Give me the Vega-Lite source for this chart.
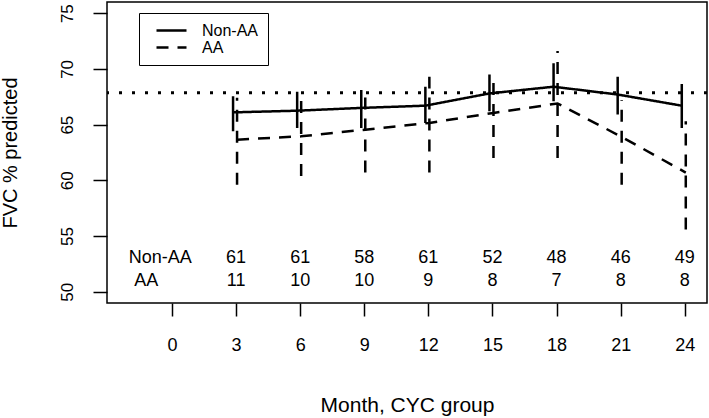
{
  "$schema": "https://vega.github.io/schema/vega-lite/v6.json",
  "width": 600,
  "height": 301,
  "autosize": {"type": "none"},
  "padding": {"left": 107, "top": 2, "right": 2, "bottom": 115},
  "background": "white",
  "config": {
    "font": "Liberation Sans",
    "view": {"stroke": "black", "strokeWidth": 1.5},
    "axis": {
      "domain": false, "grid": false, "tickColor": "black", "tickWidth": 1.5,
      "labelColor": "black", "titleColor": "black", "labelFontSize": 18,
      "titleFontSize": 21, "titleFontWeight": "normal", "labelFont": "Liberation Sans", "titleFont": "Liberation Sans"
    }
  },
  "datasets": {
    "series": [
      {"month": 3, "group": "Non-AA", "fvc": 66.1, "lo": 64.4, "hi": 67.55},
      {"month": 6, "group": "Non-AA", "fvc": 66.25, "lo": 64.7, "hi": 67.95},
      {"month": 9, "group": "Non-AA", "fvc": 66.5, "lo": 64.7, "hi": 68.1},
      {"month": 12, "group": "Non-AA", "fvc": 66.7, "lo": 65.15, "hi": 68.4},
      {"month": 15, "group": "Non-AA", "fvc": 67.8, "lo": 66.2, "hi": 69.5},
      {"month": 18, "group": "Non-AA", "fvc": 68.4, "lo": 67.1, "hi": 70.5},
      {"month": 21, "group": "Non-AA", "fvc": 67.7, "lo": 65.9, "hi": 69.3},
      {"month": 24, "group": "Non-AA", "fvc": 66.7, "lo": 64.7, "hi": 68.65},
      {"month": 3, "group": "AA", "fvc": 63.65, "lo": 59.6, "hi": 67.4},
      {"month": 6, "group": "AA", "fvc": 63.95, "lo": 60.4, "hi": 67.5},
      {"month": 9, "group": "AA", "fvc": 64.55, "lo": 60.7, "hi": 68.2},
      {"month": 12, "group": "AA", "fvc": 65.15, "lo": 60.7, "hi": 69.3},
      {"month": 15, "group": "AA", "fvc": 66.05, "lo": 62.0, "hi": 69.3},
      {"month": 18, "group": "AA", "fvc": 66.9, "lo": 62.0, "hi": 71.6},
      {"month": 21, "group": "AA", "fvc": 63.9, "lo": 59.6, "hi": 67.2},
      {"month": 24, "group": "AA", "fvc": 60.7, "lo": 55.6, "hi": 65.3}
    ],
    "reference": [{"fvc": 67.85}],
    "counts": [
      {"month": -0.55, "level": 53, "label": "Non-AA"},
      {"month": -1.2, "level": 51, "label": "AA"},
      {"month": 3, "level": 53, "label": "61"},
      {"month": 6, "level": 53, "label": "61"},
      {"month": 9, "level": 53, "label": "58"},
      {"month": 12, "level": 53, "label": "61"},
      {"month": 15, "level": 53, "label": "52"},
      {"month": 18, "level": 53, "label": "48"},
      {"month": 21, "level": 53, "label": "46"},
      {"month": 24, "level": 53, "label": "49"},
      {"month": 3, "level": 51, "label": "11"},
      {"month": 6, "level": 51, "label": "10"},
      {"month": 9, "level": 51, "label": "10"},
      {"month": 12, "level": 51, "label": "9"},
      {"month": 15, "level": 51, "label": "8"},
      {"month": 18, "level": 51, "label": "7"},
      {"month": 21, "level": 51, "label": "8"},
      {"month": 24, "level": 51, "label": "8"}
    ]
  },
  "encoding": {
    "x": {
      "field": "month", "type": "quantitative",
      "scale": {"domain": [-3.04, 25.04], "nice": false, "zero": false},
      "axis": {
        "values": [0, 3, 6, 9, 12, 15, 18, 21, 24], "tickSize": 13, "labelPadding": 20,
        "title": "Month, CYC group", "titlePadding": 40
      }
    }
  },
  "layer": [
    {
      "data": {"name": "reference"},
      "mark": {"type": "rule", "color": "black", "strokeWidth": 3, "strokeDash": [3, 10]},
      "encoding": {
        "x": null,
        "y": {"field": "fvc", "type": "quantitative", "scale": {"domain": [49, 76], "nice": false, "zero": false}}
      }
    },
    {
      "data": {"name": "series"},
      "transform": [{"filter": "datum.group === 'Non-AA'"}],
      "layer": [
        {
          "mark": {"type": "line", "color": "black", "strokeWidth": 2.5, "xOffset": -3},
          "encoding": {
            "y": {"field": "fvc", "type": "quantitative", "scale": {"domain": [49, 76], "nice": false, "zero": false},
              "axis": {"values": [50, 55, 60, 65, 70, 75], "tickSize": 14, "labelFontSize": 17, "labelAngle": -90, "labelAlign": "center", "labelBaseline": "bottom", "labelPadding": 17, "title": "FVC % predicted", "titleFontSize": 20, "titlePadding": 38}},
            "strokeDash": {
              "field": "group", "type": "nominal",
              "scale": {"domain": ["Non-AA", "AA"], "range": [[1, 0], [12, 9]]},
              "legend": {
                "orient": "none", "legendX": 32, "legendY": 11, "title": null,
                "strokeColor": "black", "fillColor": "white", "padding": 9,
                "symbolType": "stroke", "symbolSize": 900, "symbolStrokeWidth": 2.5,
                "symbolOffset": 7, "clipHeight": 17,
                "symbolStrokeColor": "black", "labelFontSize": 16, "labelColor": "black",
                "labelOffset": 14, "rowPadding": 0, "labelFont": "Liberation Sans"
              }
            }
          }
        },
        {
          "mark": {"type": "rule", "color": "black", "strokeWidth": 2.5, "xOffset": -3},
          "encoding": {
            "y": {"field": "lo", "type": "quantitative"},
            "y2": {"field": "hi"},
            "strokeDash": {"field": "group", "type": "nominal"}
          }
        }
      ]
    },
    {
      "data": {"name": "series"},
      "transform": [{"filter": "datum.group === 'AA'"}],
      "layer": [
        {
          "mark": {"type": "line", "color": "black", "strokeWidth": 2.5, "xOffset": 1},
          "encoding": {
            "y": {"field": "fvc", "type": "quantitative"},
            "strokeDash": {"field": "group", "type": "nominal"}
          }
        },
        {
          "mark": {"type": "rule", "color": "black", "strokeWidth": 2.5, "xOffset": 1},
          "encoding": {
            "y": {"field": "lo", "type": "quantitative"},
            "y2": {"field": "hi"},
            "strokeDash": {"field": "group", "type": "nominal"}
          }
        }
      ]
    },
    {
      "data": {"name": "counts"},
      "mark": {"type": "text", "fontSize": 18, "color": "black", "align": "center", "baseline": "middle", "font": "Liberation Sans"},
      "encoding": {
        "y": {"field": "level", "type": "quantitative"},
        "text": {"field": "label", "type": "nominal"}
      }
    }
  ],
  "resolve": {"legend": {"strokeDash": "shared"}}
}
